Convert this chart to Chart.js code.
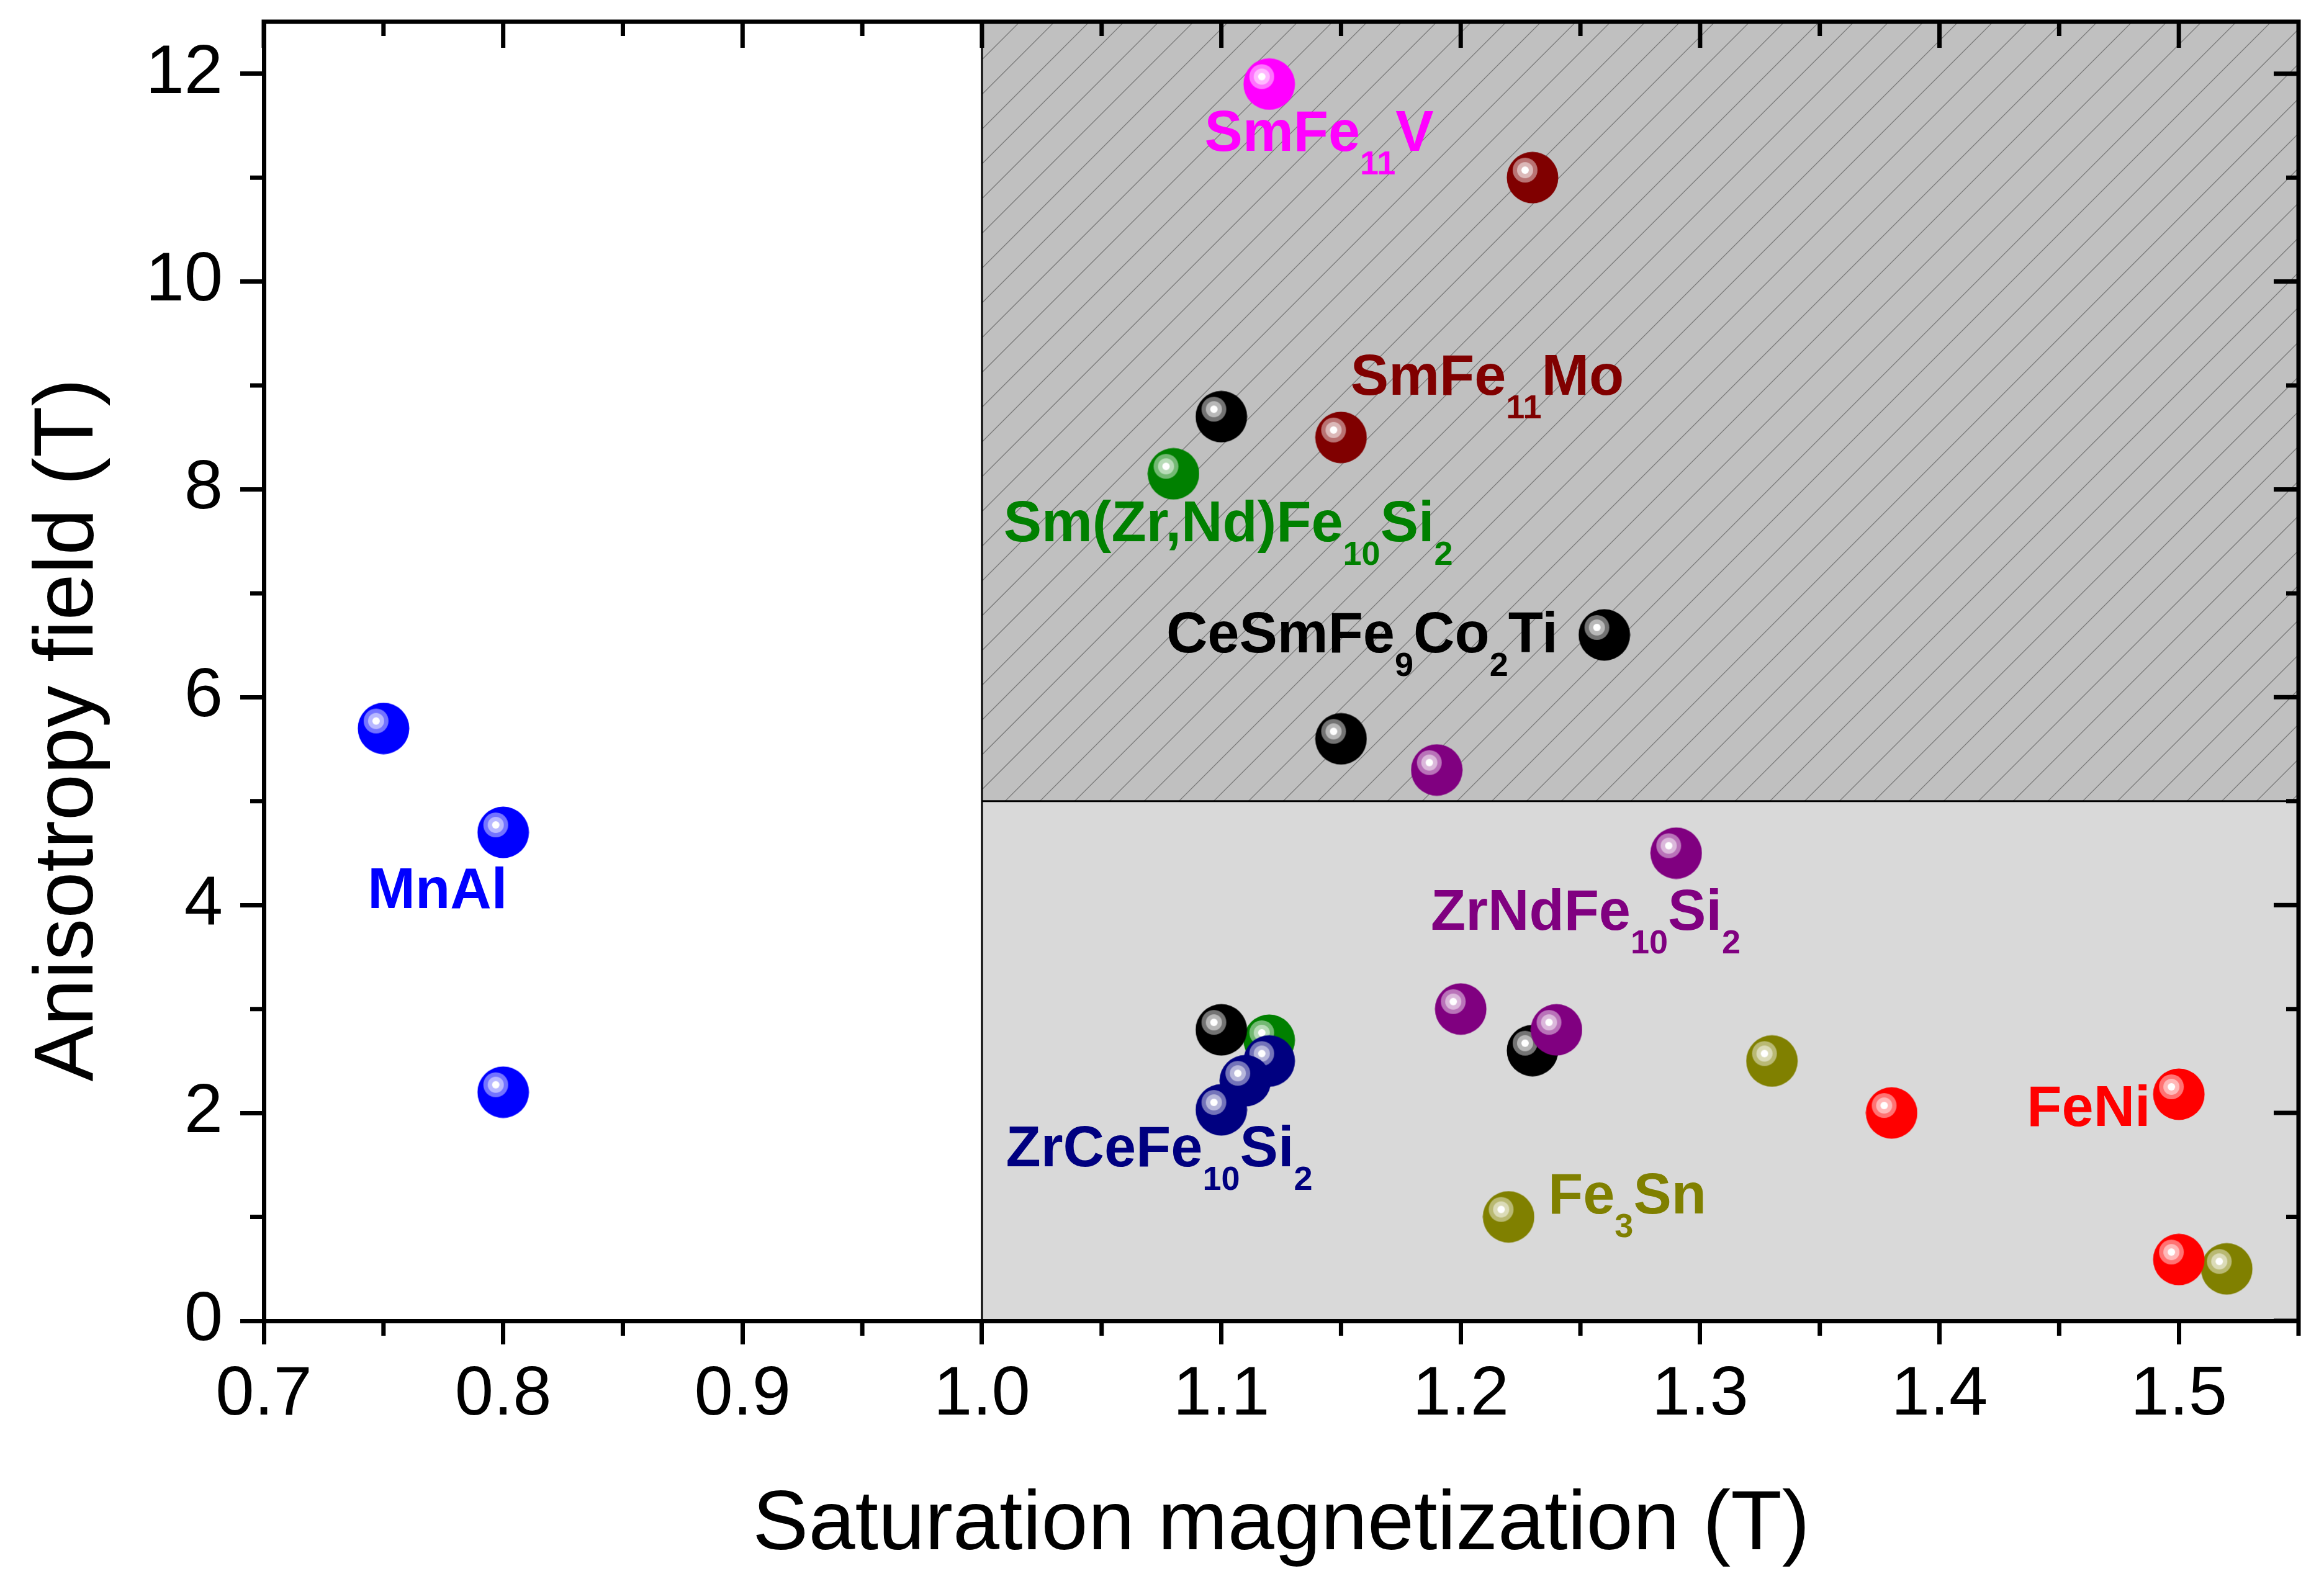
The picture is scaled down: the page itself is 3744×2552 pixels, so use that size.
<!DOCTYPE html>
<html>
<head>
<meta charset="utf-8">
<script src="https://cdn.jsdelivr.net/npm/chart.js@4.4.1/dist/chart.umd.min.js"></script>
<style>
  html, body { margin: 0; padding: 0; background: #fff; }
  #wrap { width: 3744px; height: 2552px; }
</style>
</head>
<body>
<div id="wrap"><canvas id="myChart" width="3744" height="2552"></canvas></div>
<script>
  // saturation magnetization (T) and anisotropy field (T), per compound
  const smFe11V_Ms = [1.12];
  const smFe11V_Ha = [11.9];
  const smFe11Mo_Ms = [1.23, 1.15];
  const smFe11Mo_Ha = [11.0, 8.5];
  const zrNd_Ms = [1.19, 1.29, 1.20, 1.24];
  const zrNd_Ha = [5.3, 4.5, 3.0, 2.8];
  const feNi_Ms = [1.38, 1.50, 1.50];
  const feNi_Ha = [2.0, 2.18, 0.59];
  const zrCe_Ms = [1.12, 1.11, 1.10];
  const zrCe_Ha = [2.5, 2.31, 2.03];
  const ceSm_Ms = [1.10, 1.26, 1.15, 1.10, 1.23];
  const ceSm_Ha = [8.7, 6.6, 5.6, 2.8, 2.6];
  const fe3Sn_Ms = [1.33, 1.22, 1.52];
  const fe3Sn_Ha = [2.5, 1.0, 0.5];
  const smZrNd_Ms = [1.08, 1.12];
  const smZrNd_Ha = [8.15, 2.7];
  const mnAl_Ms = [0.75, 0.80, 0.80];
  const mnAl_Ha = [5.7, 4.7, 2.2];

  const xTicks = [0.7, 0.8, 0.9, 1.0, 1.1, 1.2, 1.3, 1.4, 1.5];
  const xMinor = [0.75, 0.85, 0.95, 1.05, 1.15, 1.25, 1.35, 1.45, 1.55];
  const yTicks = [0, 2, 4, 6, 8, 10, 12];
  const yMinor = [1, 3, 5, 7, 9, 11];

  // shaded zones: [xFrom, xTo, yFrom, yTo]
  const lowZone = [1.0, 1.55, 0, 5];
  const highZone = [1.0, 1.55, 5, 12.5];

  // annotation text and where its baseline starts (data units)
  const labelTexts = ['SmFe_{11}V', 'SmFe_{11}Mo', 'Sm(Zr,Nd)Fe_{10}Si_{2}', 'CeSmFe_{9}Co_{2}Ti',
    'ZrNdFe_{10}Si_{2}', 'MnAl', 'ZrCeFe_{10}Si_{2}', 'Fe_{3}Sn', 'FeNi'];
  const labelAt = [[1.093, 11.26], [1.154, 8.91], [1.009, 7.50], [1.077, 6.43],
    [1.1875, 3.765], [0.7434, 3.97], [1.010, 1.486], [1.2365, 1.032], [1.4365, 1.878]];
  const labelColors = ['#ff00ff', '#800000', '#008000', '#000000', '#800080', '#0000ff', '#000080', '#808000', '#ff0000'];

  const family = '"Liberation Sans", Arial, Helvetica, sans-serif';

  function mix(hex, t) {
    const n = parseInt(hex.slice(1), 16);
    const c = [(n >> 16) & 255, (n >> 8) & 255, n & 255].map(v => Math.round(v + (255 - v) * t));
    return 'rgb(' + c.join(',') + ')';
  }

  // shiny ball marker like the Origin one
  function ball(color) {
    const c = document.createElement('canvas');
    c.width = c.height = 84;
    const g = c.getContext('2d');
    g.fillStyle = color;
    g.beginPath(); g.arc(42, 42, 41.5, 0, 2 * Math.PI); g.fill();
    [[20, 0.45], [13, 0.72], [6, 1]].forEach(([r, t]) => {
      g.fillStyle = mix(color, t);
      g.beginPath(); g.arc(30, 30, r, 0, 2 * Math.PI); g.fill();
    });
    return c;
  }

  function pts(xs, ys) { return xs.map((v, i) => ({x: v, y: ys[i]})); }

  // first dataset is painted last (on top)
  const data = {
    datasets: [
      {label: 'SmFe11V', data: pts(smFe11V_Ms, smFe11V_Ha), pointStyle: ball('#ff00ff')},
      {label: 'SmFe11Mo', data: pts(smFe11Mo_Ms, smFe11Mo_Ha), pointStyle: ball('#800000')},
      {label: 'ZrNdFe10Si2', data: pts(zrNd_Ms, zrNd_Ha), pointStyle: ball('#800080')},
      {label: 'FeNi', data: pts(feNi_Ms, feNi_Ha), pointStyle: ball('#ff0000')},
      {label: 'ZrCeFe10Si2', data: pts(zrCe_Ms, zrCe_Ha), pointStyle: ball('#000080')},
      {label: 'CeSmFe9Co2Ti', data: pts(ceSm_Ms, ceSm_Ha), pointStyle: ball('#000000')},
      {label: 'Fe3Sn', data: pts(fe3Sn_Ms, fe3Sn_Ha), pointStyle: ball('#808000')},
      {label: 'Sm(Zr,Nd)Fe10Si2', data: pts(smZrNd_Ms, smZrNd_Ha), pointStyle: ball('#008000')},
      {label: 'MnAl', data: pts(mnAl_Ms, mnAl_Ha), pointStyle: ball('#0000ff')},
    ]
  };

  const zones = {
    id: 'zones',
    beforeDraw(chart) {
      const {ctx, scales: {x, y}} = chart;
      ctx.save();
      let l = x.getPixelForValue(lowZone[0]), r = x.getPixelForValue(lowZone[1]);
      let t = y.getPixelForValue(lowZone[3]), b = y.getPixelForValue(lowZone[2]);
      ctx.fillStyle = '#d9d9d9';
      ctx.fillRect(l, t, r - l, b - t);

      l = x.getPixelForValue(highZone[0]); r = x.getPixelForValue(highZone[1]);
      t = y.getPixelForValue(highZone[3]); b = y.getPixelForValue(highZone[2]);
      ctx.fillStyle = '#c0c0c0';
      ctx.fillRect(l, t, r - l, b - t);
      // hatching
      ctx.save();
      ctx.beginPath(); ctx.rect(l, t, r - l, b - t); ctx.clip();
      ctx.strokeStyle = '#7a7a7a';
      ctx.lineWidth = 1.3;
      ctx.beginPath();
      for (let c = 54; c < 3744 + 2552; c += 56) {
        ctx.moveTo(c, 0); ctx.lineTo(c - 2552, 2552);
      }
      ctx.stroke();
      ctx.restore();

      // zone borders
      ctx.strokeStyle = '#000';
      ctx.lineWidth = 3;
      ctx.beginPath();
      ctx.moveTo(l, y.getPixelForValue(0)); ctx.lineTo(l, t);
      ctx.moveTo(l, b); ctx.lineTo(r, b);
      ctx.stroke();
      ctx.restore();
    },
    beforeDatasetsDraw(chart) {
      const {ctx, chartArea: a, scales: {x, y}} = chart;
      ctx.save();
      ctx.strokeStyle = '#000';
      ctx.lineWidth = 7;
      ctx.lineCap = 'butt';
      ctx.beginPath();
      // top and right frame
      ctx.moveTo(a.left - 3.5, a.top); ctx.lineTo(a.right + 3.5, a.top);
      ctx.moveTo(a.right, a.top); ctx.lineTo(a.right, a.bottom + 3.5);
      // minor ticks outside, bottom and left
      xMinor.forEach(v => { const p = x.getPixelForValue(v); ctx.moveTo(p, a.bottom); ctx.lineTo(p, a.bottom + 24); });
      yMinor.forEach(v => { const p = y.getPixelForValue(v); ctx.moveTo(a.left, p); ctx.lineTo(a.left - 22, p); });
      // inward ticks top and right
      xTicks.forEach(v => { const p = x.getPixelForValue(v); ctx.moveTo(p, a.top); ctx.lineTo(p, a.top + 42); });
      xMinor.forEach(v => { const p = x.getPixelForValue(v); ctx.moveTo(p, a.top); ctx.lineTo(p, a.top + 23); });
      yTicks.forEach(v => { const p = y.getPixelForValue(v); ctx.moveTo(a.right, p); ctx.lineTo(a.right - 40, p); });
      yMinor.forEach(v => { const p = y.getPixelForValue(v); ctx.moveTo(a.right, p); ctx.lineTo(a.right - 20, p); });
      ctx.stroke();
      ctx.restore();
    },
    afterDatasetsDraw(chart) {
      const {ctx, chartArea: a, scales: {x, y}} = chart;
      ctx.save();
      ctx.textAlign = 'left';
      ctx.textBaseline = 'alphabetic';
      labelTexts.forEach((txt, i) => {
        let cx = x.getPixelForValue(labelAt[i][0]);
        const by = y.getPixelForValue(labelAt[i][1]);
        ctx.fillStyle = labelColors[i];
        txt.split(/_\{([^}]*)\}/).forEach((part, k) => {
          const sub = k % 2 === 1;
          ctx.font = 'bold ' + (sub ? 54 : 92) + 'px ' + family;
          ctx.fillText(part, cx, sub ? by + 38 : by);
          cx += ctx.measureText(part).width;
        });
      });

      // axis titles
      ctx.fillStyle = '#000';
      ctx.font = '135px ' + family;
      ctx.textAlign = 'center';
      ctx.fillText('Saturation magnetization (T)', (a.left + a.right) / 2, 2496);
      ctx.translate(149, 1176);
      ctx.rotate(-Math.PI / 2);
      ctx.fillText('Anisotropy field (T)', 0, 0);
      ctx.restore();
    }
  };

  const config = {
    type: 'scatter',
    data,
    options: {
      responsive: false,
      devicePixelRatio: 1,
      animation: false,
      layout: { padding: { top: 35, right: 41, left: 0, bottom: 0 } },
      plugins: { legend: { display: false }, tooltip: { enabled: false } },
      scales: {
        x: {
          type: 'linear', min: 0.7, max: 1.55,
          afterBuildTicks: s => { s.ticks = xTicks.map(v => ({value: v})); },
          afterFit: s => { s.height = 424; s.paddingLeft = 0; s.paddingRight = 0; },
          ticks: { font: { family: family, size: 112 }, color: '#000', padding: 15,
                   maxRotation: 0, autoSkip: false, callback: v => v.toFixed(1) },
          grid: { drawOnChartArea: false, drawTicks: true, tickLength: 38, tickWidth: 7, tickColor: '#000' },
          border: { display: true, color: '#000', width: 7 }
        },
        y: {
          type: 'linear', min: 0, max: 12.5,
          afterBuildTicks: s => { s.ticks = yTicks.map(v => ({value: v})); },
          afterFit: s => { s.width = 425; s.paddingTop = 0; s.paddingBottom = 0; },
          ticks: { font: { family: family, size: 112 }, color: '#000', padding: 28,
                   autoSkip: false, callback: v => String(v) },
          grid: { drawOnChartArea: false, drawTicks: true, tickLength: 38, tickWidth: 7, tickColor: '#000' },
          border: { display: true, color: '#000', width: 7 }
        }
      }
    },
    plugins: [zones]
  };

  var myChart = new Chart(document.getElementById('myChart'), config);
</script>
</body>
</html>
